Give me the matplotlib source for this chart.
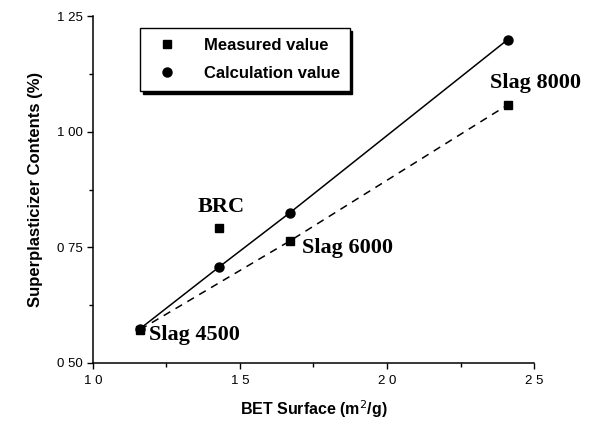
import matplotlib.pyplot as plt
from matplotlib.ticker import MultipleLocator

# BET surface (m2/g) and superplasticizer dosage (%)
bet_line = [11.6, 16.7, 24.1]
measured_line = [0.572, 0.764, 1.058]
bet_brc = [14.3]
measured_brc = [0.792]
bet_calc = [11.6, 14.3, 16.7, 24.1]
calc_values = [0.574, 0.708, 0.825, 1.199]

labels = ['Slag 4500', 'BRC', 'Slag 6000', 'Slag 8000']
label_x = [11.9, 14.35, 17.1, 23.5]
label_y = [0.561, 0.838, 0.749, 1.105]
label_ha = ['left', 'center', 'left', 'left']

fig = plt.figure(figsize=(5.96, 4.25), dpi=100)
ax = fig.add_axes([0.156, 0.146, 0.74, 0.816])

ax.plot(bet_line, measured_line, 'k--', linewidth=1.1, dashes=(5, 4))
ax.plot(bet_calc, calc_values, 'k-', linewidth=1.1)
ax.plot(bet_line + bet_brc, measured_line + measured_brc, 'ks', markersize=6,
        linestyle='none', label='Measured value')
ax.plot(bet_calc, calc_values, 'ko', markersize=6.5, linestyle='none',
        label='Calculation value')

for txt, x, y, ha in zip(labels, label_x, label_y, label_ha):
    ax.text(x, y, txt, fontsize=16, fontweight='bold', family='Liberation Serif',
            ha=ha, va='center')

ax.set_xlim(10, 25)
ax.set_ylim(0.5, 1.25)
ax.xaxis.set_minor_locator(MultipleLocator(2.5))
ax.yaxis.set_minor_locator(MultipleLocator(0.125))
ax.set_xticks([10, 15, 20, 25])
ax.set_xticklabels(['1 0', '1 5', '2 0', '2 5'], family='Liberation Sans')
ax.set_yticks([0.5, 0.75, 1.0, 1.25])
ax.set_yticklabels(['0 50', '0 75', '1 00', '1 25'], family='Liberation Sans')
ax.tick_params(which='both', direction='out', labelsize=9.5, width=1)
ax.tick_params(which='major', length=4)
ax.tick_params(which='minor', length=3)
ax.tick_params(axis='x', pad=5)

for side in ['top', 'right']:
    ax.spines[side].set_visible(False)
for side in ['left', 'bottom']:
    ax.spines[side].set_linewidth(1.1)

ax.set_xlabel('BET Surface (m$^2$/g)', fontsize=11.5, fontweight='bold',
              family='Liberation Sans', labelpad=8)
ax.set_ylabel('Superplasticizer Contents (%)', fontsize=12, fontweight='bold',
              family='Liberation Sans', labelpad=10)

leg = ax.legend(loc='upper left', bbox_to_anchor=(0.107, 0.965), frameon=True,
                fancybox=False, shadow={'color': 'black', 'alpha': 1},
                borderpad=0.6, labelspacing=0.75, handletextpad=1.2,
                borderaxespad=0,
                prop={'family': 'Liberation Sans', 'weight': 'bold', 'size': 12})
leg.get_frame().set_edgecolor('black')
leg.get_frame().set_linewidth(1)

fig.savefig('out.png', dpi=100)
